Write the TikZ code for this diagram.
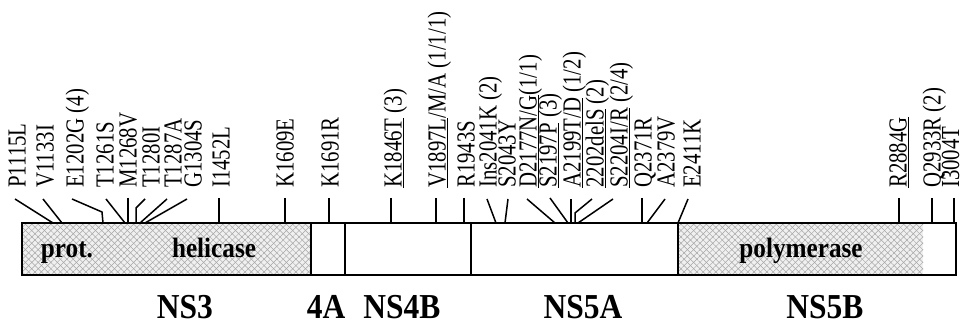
\documentclass[tikz,border=0pt]{standalone}
\usepackage{fontspec}
\setmainfont{Liberation Serif}
\newfontfamily\mutfont[FakeStretch=0.8]{Liberation Serif}
\newfontfamily\segfont[FakeStretch=0.9]{Liberation Serif}
\usepackage{tikz}
\usetikzlibrary{patterns,patterns.meta,positioning}

\tikzset{
  mut/.style={rotate=90, anchor=base west, inner sep=0pt, font=\mutfont\fontsize{26}{30}\selectfont},
  tickline/.style={line width=1.5pt},
  bar/.style={line width=1.8pt},
  hatched/.style={fill=black!6,
    postaction={pattern={Lines[angle=45,distance=4.5pt,line width=0.5pt]}, pattern color=black!35},
    postaction={pattern={Lines[angle=-45,distance=4.5pt,line width=0.5pt]}, pattern color=black!35}},
  domlabel/.style={inner sep=0pt, anchor=base, font=\segfont\bfseries\fontsize{28}{32}\selectfont},
  protname/.style={inner sep=0pt, anchor=base, font=\segfont\bfseries\fontsize{35}{40}\selectfont}
}

\begin{document}
\begin{tikzpicture}[x=1pt, y=1pt]
    \useasboundingbox (0,0) rectangle (962,326);

    % polyprotein bar
    \fill[hatched] (22,51) rectangle (311,103);
    \fill[hatched] (678,51) rectangle (923,103);
    \draw[bar] (22,51) rectangle (956,103);
    \draw[bar] (311,51) -- (311,103);
    \draw[bar] (345,51) -- (345,103);
    \draw[bar] (471,51) -- (471,103);
    \draw[bar] (678,51) -- (678,103);

    % domains inside the bar
    \node[domlabel] (prot) at (67,68) {prot.};
    \node[domlabel] (hel) at (214,68) {helicase};
    \node[domlabel] (pol) at (801,68) {polymerase};

    % protein names
    \node[protname] (ns3) at (185,7) {NS3};
    \node[protname] (ns4a) at (326,7) {4A};
    \node[protname] (ns4b) at (402,7) {NS4B};
    \node[protname] (ns5a) at (583,7) {NS5A};
    \node[protname] (ns5b) at (825,7) {NS5B};

    % NS3 mutations
    \node[mut] (m1115) at (25.5,138) {P1115L};
    \coordinate (t1115) at (15,127); \coordinate (f1115) at (53,103);
    \node[mut] (m1133) at (53.5,138) {V1133I};
    \coordinate (t1133) at (43,127); \coordinate (f1133) at (62,103);
    \node[mut] (m1202) at (83.5,138) {E1202G (4)};
    \coordinate (t1202) at (72,127); \coordinate (e1202) at (102,114); \coordinate (f1202) at (103,103);
    \node[mut] (m1261) at (113.5,138) {T1261S};
    \coordinate (t1261) at (106,127); \coordinate (f1261) at (125,103);
    \node[mut] (m1268) at (136.5,138) {M1268V};
    \coordinate (t1268) at (128,128); \coordinate (f1268) at (128,103);
    \node[mut] (m1280) at (159.5,138) {T1280I};
    \coordinate (t1280) at (145,127); \coordinate (e1280) at (136,118); \coordinate (f1280) at (136,103);
    \node[mut] (m1287) at (181.5,138) {T1287A};
    \coordinate (t1287) at (167,127); \coordinate (f1287) at (140,103);
    \node[mut] (m1304) at (201.5,138) {G1304S};
    \coordinate (t1304) at (187,127); \coordinate (f1304) at (145,103);
    \node[mut] (m1452) at (229.5,138) {I1452L};
    \coordinate (t1452) at (219,128); \coordinate (f1452) at (219,103);
    \node[mut] (m1609) at (293.5,138) {K1609E};
    \coordinate (t1609) at (285,128); \coordinate (f1609) at (285,103);

    \draw[tickline] (t1115) -- (f1115);
    \draw[tickline] (t1133) -- (f1133);
    \draw[tickline] (t1202) -- (e1202) -- (f1202);
    \draw[tickline] (t1261) -- (f1261);
    \draw[tickline] (t1268) -- (f1268);
    \draw[tickline] (t1280) -- (e1280) -- (f1280);
    \draw[tickline] (t1287) -- (f1287);
    \draw[tickline] (t1304) -- (f1304);
    \draw[tickline] (t1452) -- (f1452);
    \draw[tickline] (t1609) -- (f1609);

    % NS4A / NS4B mutations
    \node[mut] (m1691) at (338.5,138) {K1691R};
    \coordinate (t1691) at (329,128); \coordinate (f1691) at (329,103);
    \node[mut] (m1846) at (401.5,138) {\underline{K1846T} (3)};
    \coordinate (t1846) at (391,128); \coordinate (f1846) at (391,103);
    \node[mut] (m1897) at (445.5,138) {\underline{V1897L}/M/A (1/1/1)};
    \coordinate (t1897) at (436,128); \coordinate (f1897) at (436,103);
    \node[mut] (m1943) at (474.5,138) {R1943S};
    \coordinate (t1943) at (464,128); \coordinate (f1943) at (464,103);

    \draw[tickline] (t1691) -- (f1691);
    \draw[tickline] (t1846) -- (f1846);
    \draw[tickline] (t1897) -- (f1897);
    \draw[tickline] (t1943) -- (f1943);

    % NS5A mutations
    \node[mut] (m2041) at (496.5,138) {Ins2041K (2)};
    \coordinate (t2041) at (487,127); \coordinate (f2041) at (496,103);
    \node[mut] (m2043) at (515.5,138) {S2043Y};
    \coordinate (t2043) at (508,127); \coordinate (f2043) at (505,103);
    \node[mut] (m2177) at (536.5,138) {\underline{D2177N/G}(1/1)};
    \coordinate (t2177) at (527,127); \coordinate (f2177) at (555,103);
    \node[mut] (m2197) at (556.5,138) {\underline{S2197P} (3)};
    \coordinate (t2197) at (550,128); \coordinate (f2197) at (568,103);
    \node[mut] (m2199) at (580.5,138) {\underline{A2199T/D} (1/2)};
    \coordinate (t2199) at (571,127); \coordinate (f2199) at (571,103);
    \node[mut] (m2202) at (603.5,138) {\underline{2202delS} (2)};
    \coordinate (t2202) at (592,127); \coordinate (e2202) at (575,113); \coordinate (f2202) at (575,103);
    \node[mut] (m2204) at (627.5,138) {\underline{S2204I/R} (2/4)};
    \coordinate (t2204) at (613,127); \coordinate (f2204) at (578,103);
    \node[mut] (m2371) at (651.5,138) {Q2371R};
    \coordinate (t2371) at (642,128); \coordinate (f2371) at (642,103);
    \node[mut] (m2379) at (674.5,138) {A2379V};
    \coordinate (t2379) at (665,127); \coordinate (f2379) at (647,103);
    \node[mut] (m2411) at (700.5,138) {E2411K};
    \coordinate (t2411) at (688,127); \coordinate (f2411) at (678,103);

    \draw[tickline] (t2041) -- (f2041);
    \draw[tickline] (t2043) -- (f2043);
    \draw[tickline] (t2177) -- (f2177);
    \draw[tickline] (t2197) -- (f2197);
    \draw[tickline] (t2199) -- (f2199);
    \draw[tickline] (t2202) -- (e2202) -- (f2202);
    \draw[tickline] (t2204) -- (f2204);
    \draw[tickline] (t2371) -- (f2371);
    \draw[tickline] (t2379) -- (f2379);
    \draw[tickline] (t2411) -- (f2411);

    % NS5B mutations
    \node[mut] (m2884) at (906.5,138) {\underline{R2884G}};
    \coordinate (t2884) at (899,128); \coordinate (f2884) at (899,103);
    \node[mut] (m2933) at (940.5,138) {Q2933R (2)};
    \coordinate (t2933) at (932,128); \coordinate (f2933) at (932,103);
    \node[mut] (m3004) at (959,138) {I3004T};
    \coordinate (t3004) at (954,128); \coordinate (f3004) at (954,103);

    \draw[tickline] (t2884) -- (f2884);
    \draw[tickline] (t2933) -- (f2933);
    \draw[tickline] (t3004) -- (f3004);
\end{tikzpicture}
\end{document}
